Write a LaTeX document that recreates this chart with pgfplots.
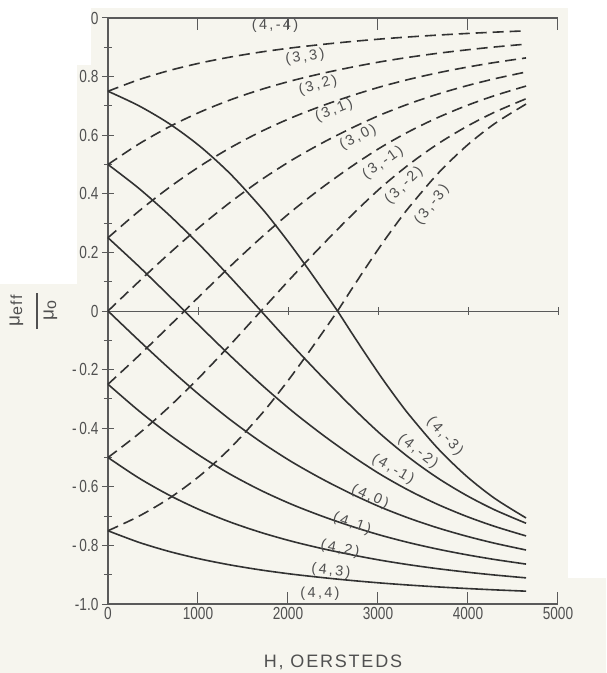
\documentclass[border=0pt]{standalone}
\usepackage{fontspec}
\setmainfont{Liberation Sans}
\newfontfamily\narrow{Liberation Sans}[FakeStretch=0.78]
\newfontfamily\lettered{Liberation Sans}[LetterSpace=10]
\newfontfamily\curvefont{Liberation Sans}[LetterSpace=16]
\usepackage{pgfplots}
\usepackage{pgfplotstable}
\pgfplotsset{compat=1.18}

\definecolor{paper}{RGB}{246,245,238}
\definecolor{ink}{RGB}{50,50,50}
\definecolor{axisgray}{RGB}{90,90,90}
\definecolor{txt}{RGB}{80,80,80}

\tikzset{lbl/.style={font=\curvefont\fontsize{14.5}{14.5}\selectfont, text=txt, inner sep=0pt}}
\pgfplotsset{dsh/.style={ink, line width=1.6pt, smooth, dash pattern=on 11pt off 6pt},
             sld/.style={ink, line width=1.6pt, smooth}}

% F = 3 family (dashed), columns by m
\pgfplotstableread{
H     d3     d2     d1     d0     dm1     dm2
0     0.7500 0.5000 0.2500 0.0000 -0.2500 -0.5000
340   0.7892 0.5695 0.3400 0.0995 -0.1531 -0.4193
680   0.8207 0.6286 0.4215 0.1961 -0.0516 -0.3273
1020  0.8461 0.6786 0.4939 0.2873  0.0516 -0.2250
1360  0.8668 0.7206 0.5574 0.3714  0.1531 -0.1147
1700  0.8839 0.7559 0.6124 0.4472  0.2500  0.0000
2040  0.8980 0.7857 0.6597 0.5145  0.3400  0.1147
2380  0.9098 0.8109 0.7004 0.5735  0.4215  0.2250
2709  0.9198 0.8322 0.7351 0.6247  0.4939  0.3273
3026  0.9282 0.8504 0.7650 0.6690  0.5574  0.4193
3344  0.9354 0.8660 0.7906 0.7071  0.6124  0.5000
3661  0.9416 0.8794 0.8126 0.7399  0.6597  0.5695
3979  0.9470 0.8910 0.8316 0.7682  0.7004  0.6286
4296  0.9517 0.9011 0.8481 0.7926  0.7351  0.6786
4645  0.9562 0.9108 0.8638 0.8157  0.7677  0.7244
}\dashtab

% F = 4 family (solid), columns by m
\pgfplotstableread{
H     s3      s2      s1      s0      sm1     sm2
0    -0.7500 -0.5000 -0.2500  0.0000  0.2500  0.5000
340  -0.7892 -0.5695 -0.3400 -0.0995  0.1531  0.4193
680  -0.8207 -0.6286 -0.4215 -0.1961  0.0516  0.3273
1020 -0.8461 -0.6786 -0.4939 -0.2873 -0.0516  0.2250
1360 -0.8668 -0.7206 -0.5574 -0.3714 -0.1531  0.1147
1700 -0.8839 -0.7559 -0.6124 -0.4472 -0.2500  0.0000
2040 -0.8980 -0.7857 -0.6597 -0.5145 -0.3400 -0.1147
2380 -0.9098 -0.8109 -0.7004 -0.5735 -0.4215 -0.2250
2709 -0.9198 -0.8322 -0.7351 -0.6247 -0.4939 -0.3273
3026 -0.9282 -0.8504 -0.7650 -0.6690 -0.5574 -0.4193
3344 -0.9354 -0.8660 -0.7906 -0.7071 -0.6124 -0.5000
3661 -0.9416 -0.8794 -0.8126 -0.7399 -0.6597 -0.5695
3979 -0.9470 -0.8910 -0.8316 -0.7682 -0.7004 -0.6286
4296 -0.9517 -0.9011 -0.8481 -0.7926 -0.7351 -0.6786
4645 -0.9562 -0.9108 -0.8638 -0.8157 -0.7677 -0.7244
}\solidtab

% m = -3 pair, steeper near the zero crossing
\pgfplotstableread{
H     d      s
0    -0.7500  0.7500
340  -0.7009  0.7009
680  -0.6394  0.6394
1020 -0.5625  0.5625
1360 -0.4677  0.4677
1700 -0.3536  0.3536
1870 -0.2894  0.2894
2040 -0.2212  0.2212
2210 -0.1495  0.1495
2380 -0.0754  0.0754
2550  0.0000  0.0000
2709  0.0754 -0.0754
2868  0.1495 -0.1495
3026  0.2212 -0.2212
3185  0.2894 -0.2894
3344  0.3536 -0.3536
3661  0.4677 -0.4677
3979  0.5625 -0.5625
4296  0.6394 -0.6394
4645  0.7063 -0.7063
}\mthree

\begin{document}
\begin{tikzpicture}
\fill[paper] (-108pt,-69pt) rectangle (498pt,604pt);
\begin{axis}[
  scale only axis, width=450pt, height=586pt,
  xmin=0, xmax=5000, ymin=-1, ymax=1,
  axis x line=box, axis y line=left,
  axis line style={axisgray, line width=1.4pt, -},
  xtick={0,1000,2000,3000,4000,5000},
  xticklabels={0,1000,2000,3000,4000,5000},
  xticklabel pos=left,
  ytick={-1,-0.8,-0.6,-0.4,-0.2,0,0.2,0.4,0.6,0.8,1},
  yticklabels={{-1.0},{-\,0.8},{-\,0.6},{-\,0.4},{-\,0.2},0,0.2,0.4,0.6,0.8,1.0},
  minor y tick num=1,
  tick style={axisgray, line width=1pt},
  major tick length=12pt, minor tick length=8pt,
  ticklabel style={font=\narrow\fontsize{17.5}{17.5}\selectfont, text=txt},
  xlabel={H, OERSTEDS},
  xlabel style={font=\lettered\fontsize{18}{18}\selectfont, text=txt,
    at={(axis description cs:0.5,-0.099)}, anchor=center},
  clip=false,
]
\addplot[axisgray, line width=1pt] coordinates {(0,0) (5000,0)};
\addplot[only marks, mark=|, mark size=4pt, axisgray, mark options={line width=0.9pt}]
  coordinates {(1000,0) (2000,0) (3000,0) (4000,0) (5000,0)};

\addplot[dsh] table[x=H, y=d3]  {\dashtab};
\addplot[dsh] table[x=H, y=d2]  {\dashtab};
\addplot[dsh] table[x=H, y=d1]  {\dashtab};
\addplot[dsh] table[x=H, y=d0]  {\dashtab};
\addplot[dsh] table[x=H, y=dm1] {\dashtab};
\addplot[dsh] table[x=H, y=dm2] {\dashtab};
\addplot[dsh] table[x=H, y=d]   {\mthree};

\addplot[sld] table[x=H, y=s3]  {\solidtab};
\addplot[sld] table[x=H, y=s2]  {\solidtab};
\addplot[sld] table[x=H, y=s1]  {\solidtab};
\addplot[sld] table[x=H, y=s0]  {\solidtab};
\addplot[sld] table[x=H, y=sm1] {\solidtab};
\addplot[sld] table[x=H, y=sm2] {\solidtab};
\addplot[sld] table[x=H, y=s]   {\mthree};

% y label: a fraction set on its side
\node[rotate=90, text=txt, inner sep=0pt]
  at (axis description cs:-0.167,0.5)
  {\lettered\fontsize{19}{19}\selectfont
   \begin{tabular}{@{}c@{}}
   μ\raisebox{-0.25ex}{\fontsize{16}{16}\selectfont eff}\\[-1pt]
   \rule{36pt}{1.3pt}\\[-3pt]
   μ\raisebox{-0.25ex}{\fontsize{16}{16}\selectfont o}
   \end{tabular}};

\node[lbl] at (axis cs:1856,0.974) {(4,-4)};
\node[lbl, rotate=8]  at (axis cs:2189,0.866) {(3,3)};
\node[lbl, rotate=15] at (axis cs:2333,0.770) {(3,2)};
\node[lbl, rotate=22] at (axis cs:2511,0.684) {(3,1)};
\node[lbl, rotate=27] at (axis cs:2778,0.592) {(3,0)};
\node[lbl, rotate=35] at (axis cs:3056,0.506) {(3,-1)};
\node[lbl, rotate=44] at (axis cs:3289,0.428) {(3,-2)};
\node[lbl, rotate=52] at (axis cs:3600,0.362) {(3,-3)};

\node[lbl, rotate=-48] at (axis cs:3744,-0.428) {(4,-3)};
\node[lbl, rotate=-38] at (axis cs:3444,-0.479) {(4,-2)};
\node[lbl, rotate=-30] at (axis cs:3167,-0.541) {(4,-1)};
\node[lbl, rotate=-24] at (axis cs:2911,-0.634) {(4,0)};
\node[lbl, rotate=-19] at (axis cs:2711,-0.726) {(4,1)};
\node[lbl, rotate=-12] at (axis cs:2578,-0.812) {(4,2)};
\node[lbl, rotate=-6]  at (axis cs:2478,-0.887) {(4,3)};
\node[lbl] at (axis cs:2356,-0.966) {(4,4)};
\end{axis}
% uncovered scan margins
\fill[white] (-108pt,596pt) rectangle (498pt,604pt);
\fill[white] (-108pt,539pt) rectangle (-17pt,604pt);
\fill[white] (-108pt,320pt) rectangle (-31pt,604pt);
\fill[white] (460pt,26pt) rectangle (498pt,604pt);
\end{tikzpicture}
\end{document}
